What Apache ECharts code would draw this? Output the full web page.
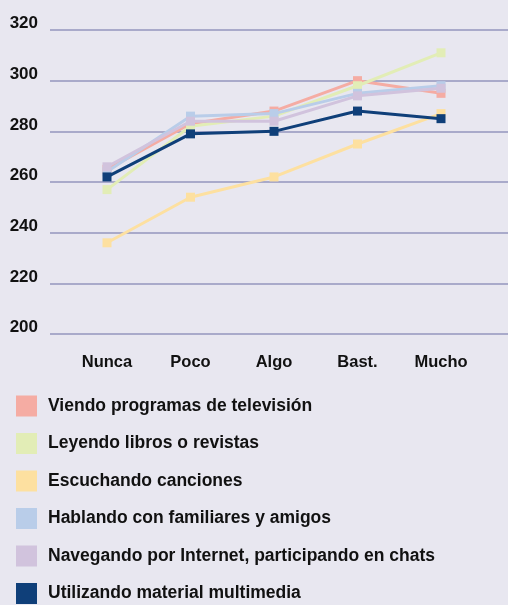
<!DOCTYPE html>
<html>
<head>
<meta charset="utf-8">
<script src="https://cdn.jsdelivr.net/npm/echarts@6/dist/echarts.min.js"></script>
<style>
  html, body { margin: 0; padding: 0; background: #e8e7f0; }
  #chart { width: 508px; height: 605px; }
</style>
</head>
<body>
<div id="chart"></div>
<script>
// categorias del eje x
var categories = ["Nunca", "Poco", "Algo", "Bast.", "Mucho"];
var seriesNames = [
  "Viendo programas de televisión",
  "Leyendo libros o revistas",
  "Escuchando canciones",
  "Hablando con familiares y amigos",
  "Navegando por Internet, participando en chats",
  "Utilizando material multimedia"
];
// valores
var tele = [265, 283, 288, 300, 295];
var libros = [257, 282, 286, 298, 311];
var canciones = [236, 254, 262, 275, 287];
var familia = [264, 286, 287, 295, 298];
var internet = [266, 284, 284, 294, 297];
var multimedia = [262, 279, 280, 288, 285];
var colors = ["#f5aca3", "#e2edb6", "#fde0a0", "#b9cde9", "#d1c3dd", "#0f3f79"];

var font = '"Liberation Sans", Arial, sans-serif';
var allData = [tele, libros, canciones, familia, internet, multimedia];

var chart = echarts.init(document.getElementById("chart"));
var option = {
  backgroundColor: "#e8e7f0",
  animation: false,
  color: colors,
  legend: {
    type: "plain",
    orient: "vertical",
    left: 16,
    top: 395.5,
    padding: 0,
    icon: "rect",
    itemWidth: 21,
    itemHeight: 21,
    itemGap: 16.5,
    data: seriesNames,
    textStyle: {
      fontFamily: font,
      fontWeight: "bold",
      fontSize: 17.5,
      color: "#111",
      padding: [0, 0, 0, 6]
    }
  },
  grid: [
    { left: 50, right: 0, top: 30, bottom: 271 },
    { left: 107, right: 67, top: 30, bottom: 271 }
  ],
  xAxis: [
    { gridIndex: 0, type: "category", data: categories, show: false },
    {
      gridIndex: 1,
      type: "category",
      data: categories,
      boundaryGap: false,
      axisLine: { show: false },
      axisTick: { show: false },
      axisLabel: {
        interval: 0,
        margin: 20,
        fontFamily: font,
        fontWeight: "bold",
        fontSize: 16.5,
        color: "#111"
      }
    }
  ],
  yAxis: [
    {
      gridIndex: 0,
      type: "value",
      min: 200,
      max: 320,
      interval: 20,
      axisLine: { show: false },
      axisTick: { show: false },
      splitLine: { lineStyle: { color: "#a9aaca", width: 2 } },
      axisLabel: {
        margin: 12,
        verticalAlign: "bottom",
        padding: [0, 0, -2, 0],
        fontFamily: font,
        fontWeight: "bold",
        fontSize: 17,
        color: "#111"
      }
    },
    { gridIndex: 1, type: "value", min: 200, max: 320, interval: 20, show: false, splitLine: { show: false } }
  ],
  series: seriesNames.map(function (name, i) {
    return {
      name: name,
      type: "line",
      xAxisIndex: 1,
      yAxisIndex: 1,
      data: allData[i],
      symbol: "rect",
      symbolSize: 9,
      lineStyle: { width: 3, color: colors[i] },
      itemStyle: { color: colors[i] },
      z: i === 5 ? 10 : 2 + i
    };
  })
};
chart.setOption(option);
</script>
</body>
</html>
